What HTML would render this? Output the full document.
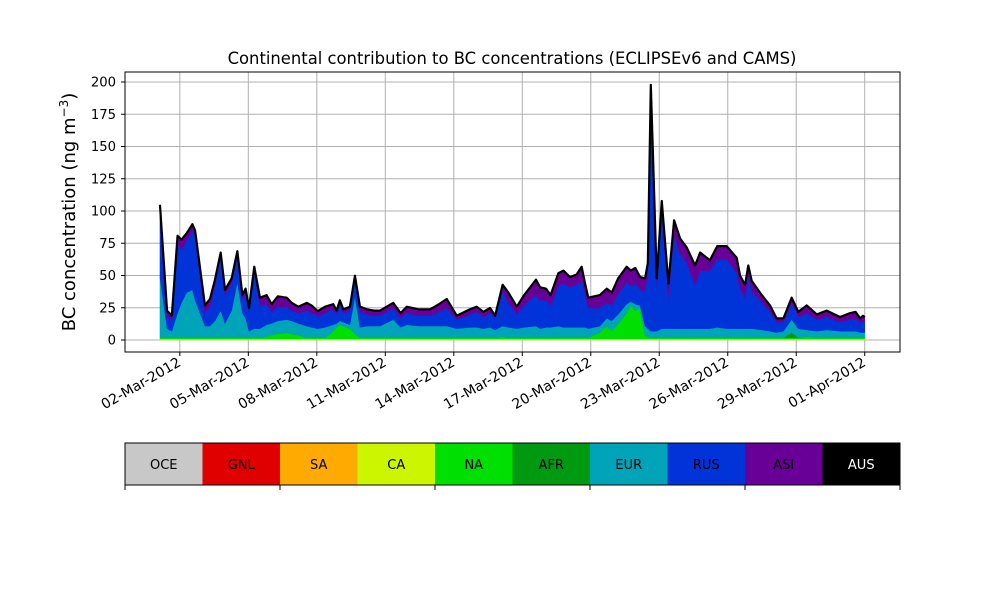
<!DOCTYPE html>
<html><head><meta charset="utf-8"><style>
body{margin:0;background:#fff;}
svg{display:block;font-family:"DejaVu Sans","Liberation Sans",sans-serif;}
</style></head><body>
<svg id="chart" width="1000" height="600" viewBox="0 0 1000 600" xmlns="http://www.w3.org/2000/svg">
<rect width="1000" height="600" fill="#fff"/>
<text x="512" y="64" font-size="16.4" text-anchor="middle">Continental contribution to BC concentrations (ECLIPSEv6 and CAMS)</text>
<text transform="translate(75,212) rotate(-90)" font-size="18" text-anchor="middle">BC concentration (ng m<tspan dy="-7" font-size="12">−3</tspan><tspan dy="7">)</tspan></text>
<g id="grid"></g><g id="areas"></g><g id="axes"></g><g id="cbar"></g>
</svg>
<script>
const tDays=[0.13,0.44,0.65,0.9,1.07,1.3,1.55,1.67,2.1,2.32,2.54,2.79,2.98,3.27,3.52,3.74,3.88,4.03,4.26,4.51,4.80,5.02,5.29,5.68,5.9,6.19,6.56,6.77,7.04,7.36,7.72,7.87,8.01,8.16,8.45,8.67,8.89,9.2,9.5,9.77,10.35,10.67,10.94,11.45,11.96,12.35,12.69,13.13,13.71,14.0,14.3,14.59,14.81,15.14,15.39,15.76,16.08,16.6,16.78,17.04,17.24,17.58,17.8,18.09,18.38,18.6,18.75,18.89,19.4,19.7,19.92,20.2,20.57,20.75,20.95,21.16,21.38,21.5,21.63,21.89,22.11,22.4,22.65,22.91,23.2,23.57,23.79,24.22,24.54,24.95,25.39,25.54,25.76,25.9,26.05,26.49,26.85,27.14,27.44,27.8,28.09,28.46,28.9,29.33,29.92,30.35,30.6,30.8,30.92,31.0];
const caVals=[0.8,0.8,0.8,0.8,0.8,0.8,0.8,0.8,0.8,0.8,0.8,0.8,0.8,0.8,0.8,0.8,0.8,0.8,0.8,0.8,0.8,0.8,0.8,0.8,0.8,0.8,0.8,0.8,0.8,0.8,0.8,0.8,0.8,0.8,0.8,0.8,0.8,0.8,0.8,0.8,0.8,0.8,0.8,0.8,0.8,0.8,0.8,0.8,0.8,0.8,0.8,0.8,0.8,0.8,0.8,0.8,0.8,0.8,0.8,0.8,0.8,0.8,0.8,0.8,0.8,0.8,0.8,0.8,0.8,0.8,0.8,0.8,0.8,0.8,0.8,0.8,0.8,0.8,0.8,0.8,0.8,0.8,0.8,0.8,0.8,0.8,0.8,0.8,0.8,0.8,0.8,0.8,0.8,0.8,0.8,0.8,0.8,0.8,0.8,0.8,0.8,0.8,0.8,0.8,0.8,0.8,0.8,0.8,0.8,0.8];
const naVals=[1,1,1,1,1,1,1,1,1,1,1,1,1,1,1,1,1,1,1,1,2,3,4,5,4,3,1,1,1,1,6,9,11,10,8,4,1,1,1,1,1,1,1,1,1,1,1,1,1,1,1,1,1,2,1,1,1,1,1,1,1,1,1,1,1,1,1,1,5,10,6,12,20,26,22,24,3,2,1,1,1,1,1,1,1,1,1,1,1,1,1,1,1,1,1,1,1,1,1,1,1,2,1,1,1,1,1,1,1,1];
const afrVals=[0,0,0,0,0,0,0,0,0,0,0,0,0,0,0,0,0,0,0,0,0,0,0,0,0,0,0,0,0,0,0,0,0,0,0,0,0,0,0,0,0,0,0,0,0,0,0,0,0,0,0,0,0,0,0,0,0,0,0,0,0,0,0,0,0,0,0,0,0,0,0,0,0,0,0,0,0,0,0,0,0,0,0,0,0,0,0,0,0,0,0,0,0,0,0,0,0,0,0,4,0,0,0,0,0,0,0,0,0,0];
const eurVals=[47,7,5,19,27,35,37,29,9,9,13,21,11,21,43,19,15,5,7,7,9,9,10,10,10,9,9,8,7,8,5,3,3,3,3,29,8,9,9,9,14,8,10,9,9,9,9,7,8,8,7,8,6,8,8,7,8,9,7,8,8,9,8,8,8,8,8,7,5,6,8,7,7,3,5,2,7,6,5,5,7,7,7,7,7,7,7,7,8,7,7,7,7,7,7,6,5,4,5,10,7,5,5,6,5,5,5,4,4,4];
const rusVals=[53,9,8,54,41,40,46,49,10,15,27,41,22,21,20,11,20,15,42,18,16,9,11,10,8,8,12,11,9.5,11,12,7,13,7,11,12,12,9,8,8,9,7,9,8,8,11,14,7,10,12,9,11,9,27,19,11,17,24,22,21,17,31,34,31,33,37,26,16,14,12,12,16,17,12,16,12,27,43,181,35,93,25,72,58,51,34,45,45,53,54,43,31,24,41,29,21,15,8,7,13,9,13,9,10,7,9,10,7,9,8];
const asiVals=[3,5,4,6,8,6,5,5,6,6,5,4,4,4,4,3,3,3,6,6,7,6,8,7,6,5,6,6,4,5,4,3,3,3,3,4,4,4,4,4,4,4,5,5,5,6,7,3,4,4,4,4,2,5,8,6,8,12,10,9,8,10,10,8,8,10,8,8,10,11,10,12,12,12,12,10,10,8,10,6,6,10,12,12,12,15,14,8,10,10,12,10,10,8,8,6,5,3,3,4,4,6,4,5,4,5,5,4,4,4];
const yTicks=[0,25,50,75,100,125,150,175,200];
const xTickDays=[1,4,7,10,13,16,19,22,25,28,31];
const xTickLabels=["02-Mar-2012","05-Mar-2012","08-Mar-2012","11-Mar-2012","14-Mar-2012","17-Mar-2012","20-Mar-2012","23-Mar-2012","26-Mar-2012","29-Mar-2012","01-Apr-2012"];
const regions=["OCE","GNL","SA","CA","NA","AFR","EUR","RUS","ASI","AUS"];

const NS="http://www.w3.org/2000/svg";
const L=125,R=900,T=72,B=352;
const xs=d=>157+22.83*d;
const ys=v=>340-1.29*v;
function mk(tag,attrs,parent){const e=document.createElementNS(NS,tag);for(const k in attrs)e.setAttribute(k,attrs[k]);parent.appendChild(e);return e;}
const grid=document.getElementById('grid'),areas=document.getElementById('areas'),axes=document.getElementById('axes'),cbar=document.getElementById('cbar');
yTicks.forEach(v=>{const l=mk('line',{x1:L,x2:R,y1:ys(v),y2:ys(v),stroke:'#b0b0b0','stroke-width':1},grid);


const tk=mk('line',{x1:L-4,x2:L,y1:ys(v),y2:ys(v),stroke:'#000'},axes);


const tx=mk('text',{x:L-9,y:ys(v)+4.5,'font-size':13.2,'text-anchor':'end'},axes);tx.textContent=v;

});
xTickDays.forEach((d,i)=>{const x=xs(d);const l=mk('line',{x1:x,x2:x,y1:T,y2:B,stroke:'#b0b0b0','stroke-width':1},grid);


const tk=mk('line',{x1:x,x2:x,y1:B,y2:B+4,stroke:'#000'},axes);


const tx=mk('text',{x:x+2,y:B+13,'font-size':14,'text-anchor':'end',transform:`rotate(-30 ${x+2} ${B+13})`},axes);tx.textContent=xTickLabels[i];

});
const layers=[["ca",caVals,"#ccf500"],["na",naVals,"#00e000"],["afr",afrVals,"#009a10"],["eur",eurVals,"#00a4b8"],["rus",rusVals,"#0034d8"],["asi",asiVals,"#680098"]];
let base=tDays.map(()=>0);
layers.forEach(([name,vals,col])=>{const top=base.map((b,i)=>b+vals[i]);
let d='M'+tDays.map((t,i)=>xs(t).toFixed(2)+','+ys(top[i]).toFixed(2)).join('L');
for(let i=tDays.length-1;i>=0;i--)d+='L'+xs(tDays[i]).toFixed(2)+','+ys(base[i]).toFixed(2);d+='Z';
const p=mk('path',{d:d,fill:col,stroke:col,'stroke-width':0.5},areas);


base=top;});
const tl=mk('path',{d:'M'+tDays.map((t,i)=>xs(t).toFixed(2)+','+ys(base[i]).toFixed(2)).join('L'),fill:'none',stroke:'#000','stroke-width':2.2,'stroke-linejoin':'round'},areas);


const fr=mk('rect',{x:L,y:T,width:R-L,height:B-T,fill:'none',stroke:'#000','stroke-width':1},axes);


const cols=["#c8c8c8","#e00000","#ffaa00","#ccf500","#00e000","#009a10","#00a4b8","#0034d8","#680098","#000000"];
const w=(R-L)/regions.length;
regions.forEach((r,i)=>{const rc=mk('rect',{x:L+i*w,y:443,width:w+0.5,height:42,fill:cols[i]},cbar);


const tx=mk('text',{x:L+i*w+w/2,y:469,'font-size':13,'text-anchor':'middle',fill:r==="AUS"?"#fff":"#000"},cbar);tx.textContent=r;

});
const cf=mk('rect',{x:L,y:443,width:R-L,height:42,fill:'none',stroke:'#000'},cbar);


[0,2,4,6,8,10].forEach(k=>{const t=mk('line',{x1:L+k*w,x2:L+k*w,y1:485,y2:490,stroke:'#000'},cbar);

});
</script>
</body></html>
